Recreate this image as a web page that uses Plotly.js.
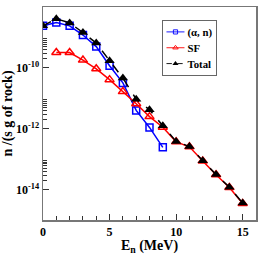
<!DOCTYPE html>
<html><head><meta charset="utf-8">
<script src="https://cdn.plot.ly/plotly-3.0.1.min.js"></script>
<style>html,body{margin:0;padding:0;background:#fff}#chart{width:258px;height:255px}</style>
</head><body><div id="chart"></div>
<script>
const energyAlphaN = [0,1,2,3,4,5,6,7,8,9];
const alphaN = [2.4e-9,3.1e-9,2.4e-9,1.2e-9,5.0e-10,1.17e-10,3.2e-11,4.0e-12,1.1e-12,2.45e-13];
const energySF = [1,2,3,4,5,6,7,8,9,10,11,12,13,14,15];
const sf = [3.2e-10,3.2e-10,1.8e-10,9.3e-11,4.1e-11,1.66e-11,6.6e-12,2.5e-12,1.12e-12,3.7e-13,2.55e-13,8.7e-14,3.05e-14,1.17e-14,3.5e-15];
const energyTotal = [0,1,2,3,4,5,6,7,8,9,10,11,12,13,14,15];
const total = [2.4e-9,4.1e-9,3.0e-9,1.45e-9,6.5e-10,1.7e-10,4.6e-11,9.3e-12,4.2e-12,1.26e-12,3.8e-13,2.6e-13,8.9e-14,3.1e-14,1.2e-14,3.6e-15];
const yTickVals = [1e-8,1e-10,1e-12,1e-14];
const yTickText = ['10<sup>-8</sup>','10<sup>-10</sup>','10<sup>-12</sup>','10<sup>-14</sup>'];
const xTickVals = [0,5,10,15];

const yMinor = [];
[-10,-12,-14].forEach(e => { for (let k=2;k<=9;k++) yMinor.push(k*Math.pow(10,e)); });

const fontFam = '"Liberation Serif", "Times New Roman", serif';
const traces = [
  {x: energyAlphaN, y: alphaN, name: '(α, n)', mode: 'lines+markers',
   line: {color: '#0000ff', width: 1.5},
   marker: {symbol: 'square-open', size: 7, color: '#0000ff', line: {width: 1.5, color: '#0000ff'}}},
  {x: energySF, y: sf, name: 'SF', mode: 'lines+markers',
   line: {color: '#ff0000', width: 1.5},
   marker: {symbol: 'triangle-up-open', size: 8, color: '#ff0000', line: {width: 1.5, color: '#ff0000'}}},
  {x: energyTotal, y: total, name: 'Total', mode: 'lines+markers',
   line: {color: '#000000', width: 1.5, dash: 'dash'},
   marker: {symbol: 'triangle-up', size: 9, color: '#000000'}}
];
const axisCommon = {
  showgrid: false, zeroline: false, showline: true, linecolor: '#777', linewidth: 1.5,
  mirror: true, ticks: 'inside', tickcolor: '#333', tickwidth: 1, ticklen: 6,
  tickfont: {family: fontFam, size: 12, color: '#000', weight: 'bold'}
};
const layout = {
  width: 258, height: 255,
  margin: {l: 43, r: 2, t: 7, b: 35},
  paper_bgcolor: '#fff', plot_bgcolor: '#fff',
  showlegend: true,
  legend: {x: 0.56, y: 0.94, xanchor: 'left', yanchor: 'top',
    bgcolor: '#fff', bordercolor: '#666', borderwidth: 2,
    font: {family: fontFam, size: 18, color: '#000', weight: 'bold'},
    tracegroupgap: 0, itemwidth: 30},
  xaxis: Object.assign({}, axisCommon, {
    range: [0, 16], tickvals: xTickVals, ticktext: xTickVals.map(String),
    minor: {dtick: 1, tick0: 0, ticks: 'inside', ticklen: 4, tickcolor: '#333', showgrid: false},
    title: {text: 'E<sub>n</sub> (MeV)', standoff: 3,
      font: {family: fontFam, size: 14, color: '#000', weight: 'bold'}}
  }),
  yaxis: Object.assign({}, axisCommon, {
    type: 'log', range: [-15, -8], tickvals: yTickVals, ticktext: yTickText,
    minor: {tickvals: yMinor, ticks: 'inside', ticklen: 4, tickcolor: '#333', showgrid: false},
    title: {text: 'n /(s g of rock)', standoff: 0,
      font: {family: fontFam, size: 14, color: '#000', weight: 'bold'}}
  })
};
Plotly.newPlot('chart', traces, layout, {displayModeBar: false, staticPlot: true}).then(gd => {
  const lg = gd.querySelector('g.legend');
  if (lg) {
    const t = lg.getAttribute('transform') || '';
    lg.setAttribute('transform', t + ' scale(0.6)');
  }
});
</script>
</body></html>
